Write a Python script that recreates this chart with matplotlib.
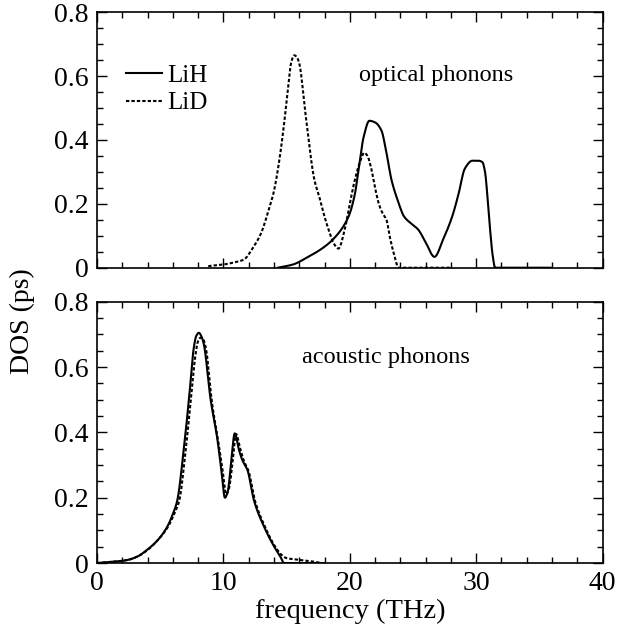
import matplotlib
matplotlib.use('Agg')
import matplotlib.pyplot as plt
from matplotlib.ticker import MultipleLocator, FuncFormatter
import numpy as np

# optical phonons
opt_lih_f = [14.3, 15.5, 16.7, 17.8, 18.8, 19.9, 20.4, 20.7, 21.1, 21.55, 22.0, 22.5, 22.9,
             23.3, 23.8, 24.3, 24.8, 25.4, 26.0, 26.7, 27.4, 28.1, 28.6, 29.1, 29.7, 30.2,
             30.5, 30.7, 30.9, 31.1, 31.3, 31.5, 33.0, 35.9]
opt_lih_d = [0.0, 0.01, 0.034, 0.06, 0.094, 0.16, 0.23, 0.31, 0.41, 0.46, 0.455, 0.43, 0.36,
             0.275, 0.21, 0.16, 0.14, 0.12, 0.08, 0.034, 0.09, 0.16, 0.23, 0.31, 0.335, 0.335,
             0.33, 0.30, 0.22, 0.12, 0.04, 0.0, 0.0, 0.0]
opt_lid_f = [8.8, 10.0, 11.0, 11.6, 12.3, 13.0, 13.5, 14.0, 14.4, 14.8, 15.1, 15.35, 15.6,
             15.8, 16.0, 16.5, 17.2, 17.6, 18.0, 18.4, 18.7, 19.1, 19.6, 20.0, 20.4, 20.8,
             21.15, 21.4, 21.7, 22.0, 22.3, 22.6, 22.9, 23.2, 23.55, 23.85, 26.0, 28.1]
opt_lid_d = [0.005, 0.01, 0.018, 0.025, 0.06, 0.11, 0.17, 0.24, 0.33, 0.45, 0.56, 0.64, 0.665,
             0.66, 0.64, 0.48, 0.275, 0.22, 0.16, 0.11, 0.078, 0.06, 0.12, 0.20, 0.275, 0.33,
             0.36, 0.35, 0.31, 0.25, 0.20, 0.17, 0.15, 0.09, 0.035, 0.0, 0.0, 0.0]

# acoustic phonons
ac_lih_f = [0.0, 1.0, 2.36, 3.2, 3.95, 4.8, 5.54, 6.0, 6.34, 6.87, 7.27, 7.66, 7.85, 8.06,
            8.25, 8.45, 8.99, 9.52, 9.85, 10.12, 10.35, 10.58, 10.9, 11.24, 11.5, 11.9, 12.43,
            13.23, 14.02, 14.5, 14.8, 16.0, 18.0]
ac_lih_d = [0.0, 0.003, 0.009, 0.02, 0.04, 0.07, 0.11, 0.15, 0.19, 0.35, 0.5, 0.66, 0.695, 0.705,
            0.695, 0.67, 0.5, 0.38, 0.28, 0.20, 0.22, 0.295, 0.397, 0.345, 0.315, 0.285, 0.19,
            0.11, 0.05, 0.02, 0.0, 0.0, 0.0]
ac_lid_f = [0.0, 1.0, 2.4, 3.2, 4.0, 4.8, 5.6, 6.1, 6.5, 7.0, 7.4, 7.8, 8.0, 8.2,
            8.4, 8.6, 9.1, 9.6, 9.95, 10.22, 10.45, 10.7, 11.0, 11.33, 11.6, 12.0, 12.5,
            13.3, 14.1, 14.6, 15.0, 16.0, 17.0, 17.8]
ac_lid_d = [0.0, 0.003, 0.009, 0.02, 0.04, 0.07, 0.11, 0.15, 0.19, 0.34, 0.49, 0.64, 0.68, 0.69,
            0.685, 0.66, 0.49, 0.37, 0.28, 0.21, 0.23, 0.30, 0.395, 0.35, 0.315, 0.28, 0.19,
            0.11, 0.05, 0.025, 0.015, 0.01, 0.005, 0.0]

plt.rcParams['font.family'] = ['Liberation Serif', 'DejaVu Serif']
plt.rcParams['font.size'] = 20


def smooth(f, d, n=1500):
    # monotone cubic (Fritsch-Carlson) through the read points
    x = np.asarray(f, float)
    y = np.asarray(d, float)
    h = np.diff(x)
    s = np.diff(y) / h
    m = np.zeros_like(y)
    m[0], m[-1] = s[0], s[-1]
    for i in range(1, len(y) - 1):
        if s[i - 1] * s[i] <= 0:
            m[i] = 0.0
        else:
            w1 = 2 * h[i] + h[i - 1]
            w2 = h[i] + 2 * h[i - 1]
            m[i] = (w1 + w2) / (w1 / s[i - 1] + w2 / s[i])
    xs = np.linspace(x[0], x[-1], n)
    k = np.clip(np.searchsorted(x, xs) - 1, 0, len(x) - 2)
    t = (xs - x[k]) / h[k]
    h00 = 2 * t**3 - 3 * t**2 + 1
    h10 = t**3 - 2 * t**2 + t
    h01 = -2 * t**3 + 3 * t**2
    h11 = t**3 - t**2
    ys = h00 * y[k] + h10 * h[k] * m[k] + h01 * y[k + 1] + h11 * h[k] * m[k + 1]
    return xs, ys


fig = plt.figure(figsize=(6.18, 6.42), dpi=100)
ax1 = fig.add_axes([0.157, 0.583, 0.818, 0.398])
ax2 = fig.add_axes([0.157, 0.123, 0.818, 0.407])

dots = (0, (1.6, 1.0))
ax1.plot(*smooth(opt_lih_f, opt_lih_d), color='black', lw=1.5, label='LiH')
ax1.plot(*smooth(opt_lid_f, opt_lid_d), color='black', lw=1.5, ls=dots, label='LiD')
ax2.plot(*smooth(ac_lih_f, ac_lih_d), color='black', lw=1.5)
ax2.plot(*smooth(ac_lid_f, ac_lid_d), color='black', lw=1.5, ls=dots)

fmt = FuncFormatter(lambda v, p: '0' if abs(v) < 1e-9 else ('%g' % v if v >= 1 else '%.1f' % v))
for ax in (ax1, ax2):
    ax.set_xlim(0, 40)
    ax.set_ylim(0, 0.8)
    ax.xaxis.set_major_locator(MultipleLocator(10))
    ax.xaxis.set_minor_locator(MultipleLocator(2))
    ax.yaxis.set_major_locator(MultipleLocator(0.2))
    ax.yaxis.set_minor_locator(MultipleLocator(0.05))
    ax.yaxis.set_major_formatter(fmt)
    ax.xaxis.set_major_formatter(fmt)
    ax.tick_params(which='both', direction='in', top=True, right=True, labelsize=20, pad=6)
    ax.tick_params(which='major', length=7, width=1)
    ax.tick_params(which='minor', length=4, width=1)
    for s in ax.spines.values():
        s.set_linewidth(1.2)

ax1.tick_params(labelbottom=False)

ax1.legend(loc='upper left', bbox_to_anchor=(0.038, 0.835), frameon=False, handlelength=1.45,
           handletextpad=0.2, labelspacing=0.2, fontsize=18, borderaxespad=0)
ax1.text(0.518, 0.73, 'optical phonons', transform=ax1.transAxes, fontsize=17.5)
ax2.text(0.405, 0.765, 'acoustic phonons', transform=ax2.transAxes, fontsize=17.5)

ax2.set_xlabel('frequency (THz)', fontsize=20.5, labelpad=2)
fig.text(0.037, 0.50, 'DOS (ps)', rotation=90, ha='center', va='center', fontsize=20)

fig.savefig('out.png', dpi=100)
